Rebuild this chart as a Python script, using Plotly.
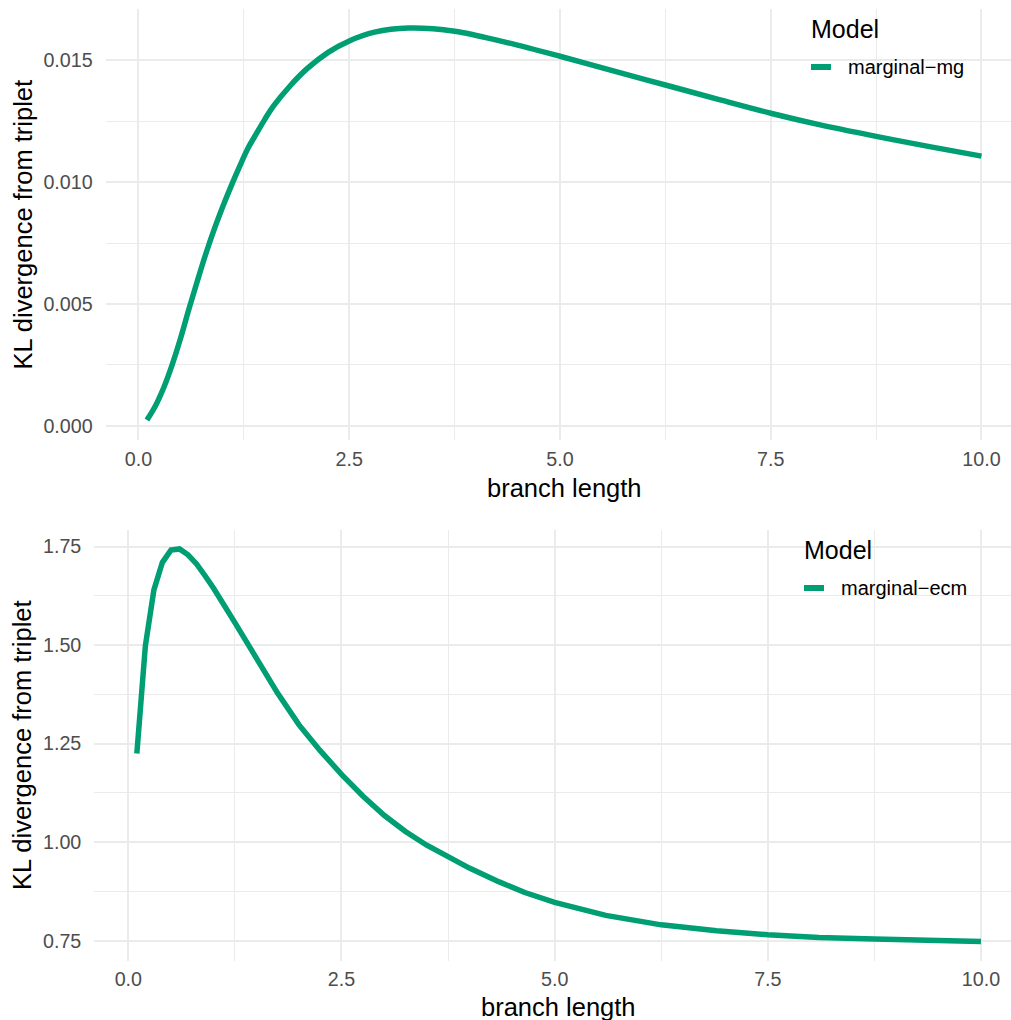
import plotly.graph_objects as go

# KL divergence of the marginal models from the triplet model, by branch length
branch_mg = [0.1, 0.2, 0.3, 0.4, 0.5, 0.6, 0.7, 0.8, 0.9, 1.0, 1.1, 1.2, 1.3, 1.4,
             1.5, 1.6, 1.8, 2.0, 2.25, 2.5, 2.8, 3.2, 3.75, 4.35, 5.0, 5.6, 6.25,
             6.9, 7.5, 8.1, 8.75, 9.4, 10.0]
kl_mg = [0.00023, 0.00081, 0.00157, 0.00251, 0.00360, 0.00481, 0.00596, 0.00707,
         0.00808, 0.00900, 0.00985, 0.01065, 0.01140, 0.01200, 0.01259, 0.01312,
         0.01396, 0.01466, 0.01533, 0.01580, 0.01616, 0.01633, 0.01620, 0.01575,
         0.01517, 0.01460, 0.01399, 0.01338, 0.01283, 0.01234, 0.01188, 0.01145,
         0.01107]

branch_ecm = [0.1, 0.2, 0.3, 0.4, 0.5, 0.6, 0.7, 0.8, 0.9, 1.0, 1.25, 1.5, 1.75,
              2.0, 2.25, 2.5, 2.75, 3.0, 3.25, 3.5, 3.75, 4.0, 4.35, 4.65, 5.0,
              5.6, 6.25, 6.9, 7.5, 8.1, 8.75, 9.4, 10.0]
kl_ecm = [1.225, 1.498, 1.640, 1.710, 1.741, 1.744, 1.729, 1.706, 1.676, 1.644,
          1.557, 1.465, 1.378, 1.298, 1.232, 1.172, 1.117, 1.068, 1.027, 0.992,
          0.962, 0.934, 0.899, 0.872, 0.847, 0.814, 0.790, 0.775, 0.765, 0.758,
          0.754, 0.750, 0.748]

model_mg = "marginal−mg"
model_ecm = "marginal−ecm"
x_ticks = [0.0, 2.5, 5.0, 7.5, 10.0]
x_tick_text = ["0.0", "2.5", "5.0", "7.5", "10.0"]
y_ticks_mg = [0.000, 0.005, 0.010, 0.015]
y_tick_text_mg = ["0.000", "0.005", "0.010", "0.015"]
y_ticks_ecm = [0.75, 1.00, 1.25, 1.50, 1.75]
y_tick_text_ecm = ["0.75", "1.00", "1.25", "1.50", "1.75"]

GREEN = "#009E73"
GRID = "#EBEBEB"
FONT = "Liberation Sans, Arial, sans-serif"
W, H = 1011, 1020

fig = go.Figure()
fig.add_trace(go.Scatter(x=branch_mg, y=kl_mg, mode="lines", name=model_mg,
                         line=dict(color=GREEN, width=5.5, shape="spline", smoothing=1),
                         xaxis="x", yaxis="y", showlegend=False))
fig.add_trace(go.Scatter(x=branch_ecm, y=kl_ecm, mode="lines", name=model_ecm,
                         line=dict(color=GREEN, width=5.5),
                         xaxis="x2", yaxis="y2", showlegend=False))


def px_x(p):
    return p / W


def px_y(p):
    return 1 - p / H


tick_font = dict(family=FONT, size=19.7, color="#4D4D4D")
xcommon = dict(showline=False, zeroline=False, ticks="", showgrid=True,
               gridcolor=GRID, gridwidth=2, tickfont=tick_font,
               tickvals=x_ticks, ticktext=x_tick_text, ticklabelstandoff=5,
               minor=dict(showgrid=True, gridcolor=GRID, gridwidth=1,
                          tickvals=[1.25, 3.75, 6.25, 8.75]))
ycommon = dict(showline=False, zeroline=False, ticks="", showgrid=True,
               gridcolor=GRID, gridwidth=2, tickfont=tick_font, ticklabelstandoff=12)

fig.update_layout(
    width=W, height=H,
    margin=dict(l=0, r=0, t=0, b=0),
    paper_bgcolor="white", plot_bgcolor="white",
    font=dict(family=FONT),
    xaxis=dict(domain=[px_x(105.7), 1], range=[-0.389, 10.35], anchor="y", **xcommon),
    yaxis=dict(domain=[px_y(440), px_y(9)], range=[-0.000587, 0.01711], anchor="x",
               tickvals=y_ticks_mg, ticktext=y_tick_text_mg,
               minor=dict(showgrid=True, gridcolor=GRID, gridwidth=1,
                          tickvals=[0.0025, 0.0075, 0.0125]),
               **ycommon),
    xaxis2=dict(domain=[px_x(94.3), 1], range=[-0.399, 10.352], anchor="y2", **xcommon),
    yaxis2=dict(domain=[px_y(960.7), px_y(530)], range=[0.699, 1.792], anchor="x2",
                tickvals=y_ticks_ecm, ticktext=y_tick_text_ecm,
                minor=dict(showgrid=True, gridcolor=GRID, gridwidth=1,
                           tickvals=[0.875, 1.125, 1.375, 1.625]),
                **ycommon),
)

title_font = dict(family=FONT, size=25.5, color="black")
ann = []
# axis titles
ann.append(dict(text="branch length", x=px_x(564), y=px_y(488), xref="paper", yref="paper",
                showarrow=False, font=title_font, xanchor="center", yanchor="middle"))
ann.append(dict(text="branch length", x=px_x(558.7), y=px_y(1007), xref="paper", yref="paper",
                showarrow=False, font=title_font, xanchor="center", yanchor="middle"))
for yc in (224.5, 745):
    ann.append(dict(text="KL divergence from triplet", x=px_x(22), y=px_y(yc),
                    xref="paper", yref="paper", showarrow=False, textangle=-90,
                    font=title_font, xanchor="center", yanchor="middle"))

# legends: title, key and label
shapes = []
for (top, left, label) in ((19, 809, model_mg), (540, 802, model_ecm)):
    ann.append(dict(text="Model", x=px_x(left), y=px_y(top + 10), xref="paper", yref="paper",
                    showarrow=False, xanchor="left", yanchor="middle",
                    font=dict(family=FONT, size=25, color="black")))
    ky = top + 48
    shapes.append(dict(type="line", xref="paper", yref="paper",
                       x0=px_x(left + 2), x1=px_x(left + 22), y0=px_y(ky), y1=px_y(ky),
                       line=dict(color=GREEN, width=6)))
    ann.append(dict(text=label, x=px_x(left + 37), y=px_y(ky), xref="paper", yref="paper",
                    showarrow=False, xanchor="left", yanchor="middle",
                    font=dict(family=FONT, size=20, color="black")))

fig.update_layout(annotations=ann, shapes=shapes)
fig.write_html("out.html")
